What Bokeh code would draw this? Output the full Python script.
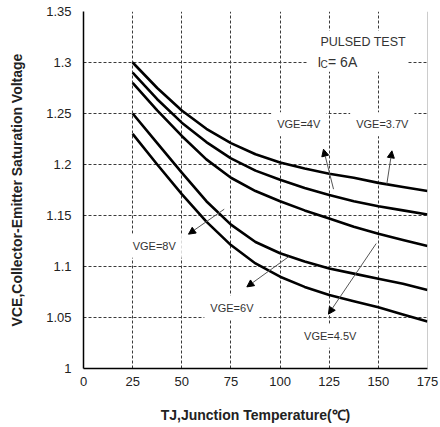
from bokeh.plotting import figure
from bokeh.models import Label, Arrow, NormalHead, FixedTicker, Span
from bokeh.embed import file_html
from bokeh.resources import INLINE

# ---- data ----
temps = [25, 37.5, 50, 62.5, 75, 87.5, 100, 112.5, 125, 137.5, 150, 162.5, 175]
v_37 = [1.300, 1.275, 1.253, 1.235, 1.221, 1.210, 1.202, 1.196, 1.191, 1.187, 1.182, 1.178, 1.174]
v_40 = [1.290, 1.264, 1.241, 1.222, 1.206, 1.194, 1.185, 1.177, 1.170, 1.164, 1.159, 1.155, 1.151]
v_45 = [1.280, 1.253, 1.228, 1.205, 1.187, 1.174, 1.164, 1.155, 1.147, 1.139, 1.132, 1.126, 1.120]
v_60 = [1.250, 1.221, 1.192, 1.164, 1.141, 1.124, 1.113, 1.105, 1.098, 1.093, 1.088, 1.083, 1.077]
v_80 = [1.230, 1.200, 1.171, 1.144, 1.121, 1.103, 1.090, 1.080, 1.072, 1.066, 1.060, 1.053, 1.046]
series = [v_37, v_40, v_45, v_60, v_80]

x_ticks = [0, 25, 50, 75, 100, 125, 150, 175]
y_ticks = [1.0, 1.05, 1.1, 1.15, 1.2, 1.25, 1.3, 1.35]
y_tick_labels = ["1", "1.05", "1.1", "1.15", "1.2", "1.25", "1.3", "1.35"]

label_texts = ["VGE=4V", "VGE=3.7V", "VGE=8V", "VGE=6V", "VGE=4.5V"]
label_x = [109.5, 152.0, 36.0, 75.5, 125.5]
label_y = [1.2395, 1.2395, 1.1203, 1.0598, 1.032]

arrow_x_start = [127.2, 154.3, 71.6, 104.3, 148.9]
arrow_y_start = [1.1758, 1.1807, 1.1562, 1.1095, 1.1225]
arrow_x_end = [122.1, 156.9, 53.4, 83.1, 124.6]
arrow_y_end = [1.215, 1.2134, 1.1317, 1.080, 1.0533]

FONT = "Liberation Sans"

p = figure(width=440, height=427, output_backend="svg", toolbar_location=None,
           x_range=(0, 175), y_range=(1.0, 1.35),
           min_border_left=83, min_border_right=13, min_border_top=11, min_border_bottom=59)
p.outline_line_color = None
p.background_fill_color = "white"
p.border_fill_color = "white"

# grids
for g in (p.xgrid, p.ygrid):
    g.grid_line_color = "#3a3a3a"
    g.grid_line_dash = "3 2"
    g.grid_line_width = 1
p.xgrid.ticker = FixedTicker(ticks=x_ticks[1:-1])
p.ygrid.ticker = FixedTicker(ticks=y_ticks[1:-1])

# axes
p.xaxis.ticker = FixedTicker(ticks=x_ticks)
p.yaxis.ticker = FixedTicker(ticks=y_ticks)
p.yaxis.major_label_overrides = {t: s for t, s in zip(y_ticks, y_tick_labels)}
for ax in (p.xaxis, p.yaxis):
    ax.axis_line_color = "black"
    ax.axis_line_width = 1.5
    ax.major_tick_in = 0
    ax.major_tick_out = 0
    ax.minor_tick_in = 0
    ax.minor_tick_out = 0
    ax.major_label_text_font = FONT
    ax.major_label_text_font_size = "13px"
    ax.major_label_text_color = "#222"
    ax.axis_label_text_font = FONT
    ax.axis_label_text_font_size = "14px"
    ax.axis_label_text_font_style = "bold"
    ax.axis_label_text_color = "#222"
p.xaxis.major_label_standoff = 8
p.yaxis.major_label_standoff = 12
p.xaxis.axis_label = "TJ,Junction Temperature(\u2103)"
p.yaxis.axis_label = "VCE,Collector-Emitter Saturation Voltage"
p.xaxis.axis_label_standoff = 18
p.yaxis.axis_label_standoff = 18

p.add_layout(Span(location=175, dimension="height", line_color="#9a9a9a", line_width=1))

# curves
for s in series:
    p.line(temps, s, line_color="black", line_width=2.6, line_join="round")

# labels with white background
for t, x, y in zip(label_texts, label_x, label_y):
    p.add_layout(Label(x=x, y=y, text=t, text_font=FONT, text_font_size="11px",
                       text_color="#333", text_align="center", text_baseline="middle",
                       background_fill_color="white", padding=6))

p.add_layout(Label(x=118.5, y=1.3203, text="PULSED TEST", text_font=FONT,
                   text_font_size="12.5px", text_color="#333", text_baseline="middle",
                   background_fill_color="white", padding=4))
p.add_layout(Label(x=119.0, y=1.3007, text="I", text_font=FONT,
                   text_font_size="14px", text_color="#333", text_baseline="middle",
                   background_fill_color="white", x_offset=-10,
                   padding=dict(left=10, right=4, top=2, bottom=2)))
p.add_layout(Label(x=124.4, y=1.3007, text="= 6A", text_font=FONT,
                   text_font_size="14px", text_color="#333", text_baseline="middle",
                   background_fill_color="white", x_offset=-2,
                   padding=dict(left=2, right=50, top=2, bottom=2)))
p.add_layout(Label(x=120.6, y=1.2985, text="C", text_font=FONT,
                   text_font_size="10px", text_color="#333", text_baseline="middle",
                   background_fill_color="white"))

for xs, ys, xe, ye in zip(arrow_x_start, arrow_y_start, arrow_x_end, arrow_y_end):
    p.add_layout(Arrow(x_start=xs, y_start=ys, x_end=xe, y_end=ye,
                       line_color="#555", line_width=1,
                       end=NormalHead(size=7, fill_color="black", line_color="black")))

open("out.html", "w").write(file_html(p, INLINE))
